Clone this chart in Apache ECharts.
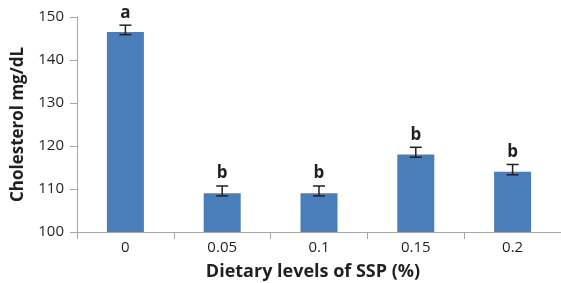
<!DOCTYPE html>
<html><head><meta charset="utf-8">
<script src="https://cdn.jsdelivr.net/npm/echarts@6/dist/echarts.min.js"></script>
<style>html,body{margin:0;padding:0;background:#fff}#c{width:561px;height:283px}</style>
</head><body><div id="c"></div>
<script>
var categories = ['0', '0.05', '0.1', '0.15', '0.2'];
var values = [146.5, 109.0, 109.0, 118.0, 114.0];
var errLow = [145.9, 108.4, 108.4, 117.4, 113.3];
var errHigh = [148.1, 110.7, 110.7, 119.7, 115.7];
var letters = ['a', 'b', 'b', 'b', 'b'];

var textColor = '#231f20';
var axisColor = '#a6a6a6';
var font = 'Open Sans';

var errData = categories.map(function (c, i) { return [i, errLow[i], errHigh[i], letters[i]]; });

var chart = echarts.init(document.getElementById('c'), null, {renderer: 'canvas'});
chart.setOption({
  animation: false,
  grid: {left: 77, right: 0, top: 17, bottom: 51, containLabel: false, outerBoundsMode: 'none'},
  xAxis: {
    type: 'category',
    data: categories,
    name: 'Dietary levels of SSP (%)',
    nameLocation: 'middle',
    nameGap: 31,
    nameTextStyle: {fontFamily: font, fontWeight: 'bold', fontSize: 18, color: textColor, padding: [0, 12, 0, 0]},
    axisLine: {lineStyle: {color: axisColor, width: 1}},
    axisTick: {show: true, length: 7, lineStyle: {color: axisColor}},
    axisLabel: {fontFamily: font, fontSize: 15, color: textColor, margin: 8}
  },
  yAxis: {
    type: 'value',
    min: 100, max: 150, interval: 10,
    name: 'Cholesterol mg/dL',
    nameLocation: 'middle',
    nameGap: 50,
    nameTextStyle: {fontFamily: font, fontWeight: 'bold', fontSize: 17, color: textColor},
    splitLine: {show: false},
    axisLine: {show: true, lineStyle: {color: axisColor, width: 1}},
    axisTick: {show: true, length: 7, lineStyle: {color: axisColor}},
    axisLabel: {fontFamily: font, fontSize: 15, color: textColor, margin: 13}
  },
  series: [
    {
      type: 'bar',
      data: values,
      barWidth: 37,
      itemStyle: {color: '#4a7ebb'}
    },
    {
      type: 'custom',
      data: errData,
      z: 10,
      renderItem: function (params, api) {
        var x = api.value(0);
        var lo = api.coord([x, api.value(1)]);
        var hi = api.coord([x, api.value(2)]);
        var hw = 6;
        var st = {stroke: textColor, lineWidth: 1.5};
        return {
          type: 'group',
          children: [
            {type: 'line', shape: {x1: lo[0], y1: lo[1], x2: hi[0], y2: hi[1]}, style: st},
            {type: 'line', shape: {x1: lo[0] - hw, y1: lo[1], x2: lo[0] + hw, y2: lo[1]}, style: st},
            {type: 'line', shape: {x1: hi[0] - hw, y1: hi[1], x2: hi[0] + hw, y2: hi[1]}, style: st},
            {type: 'text', x: hi[0], y: hi[1] - 4, style: {
              text: letters[params.dataIndex], fontFamily: font, fontWeight: 'bold', fontSize: 17,
              fill: textColor, align: 'center', verticalAlign: 'bottom'}}
          ]
        };
      }
    }
  ]
});
</script></body></html>
